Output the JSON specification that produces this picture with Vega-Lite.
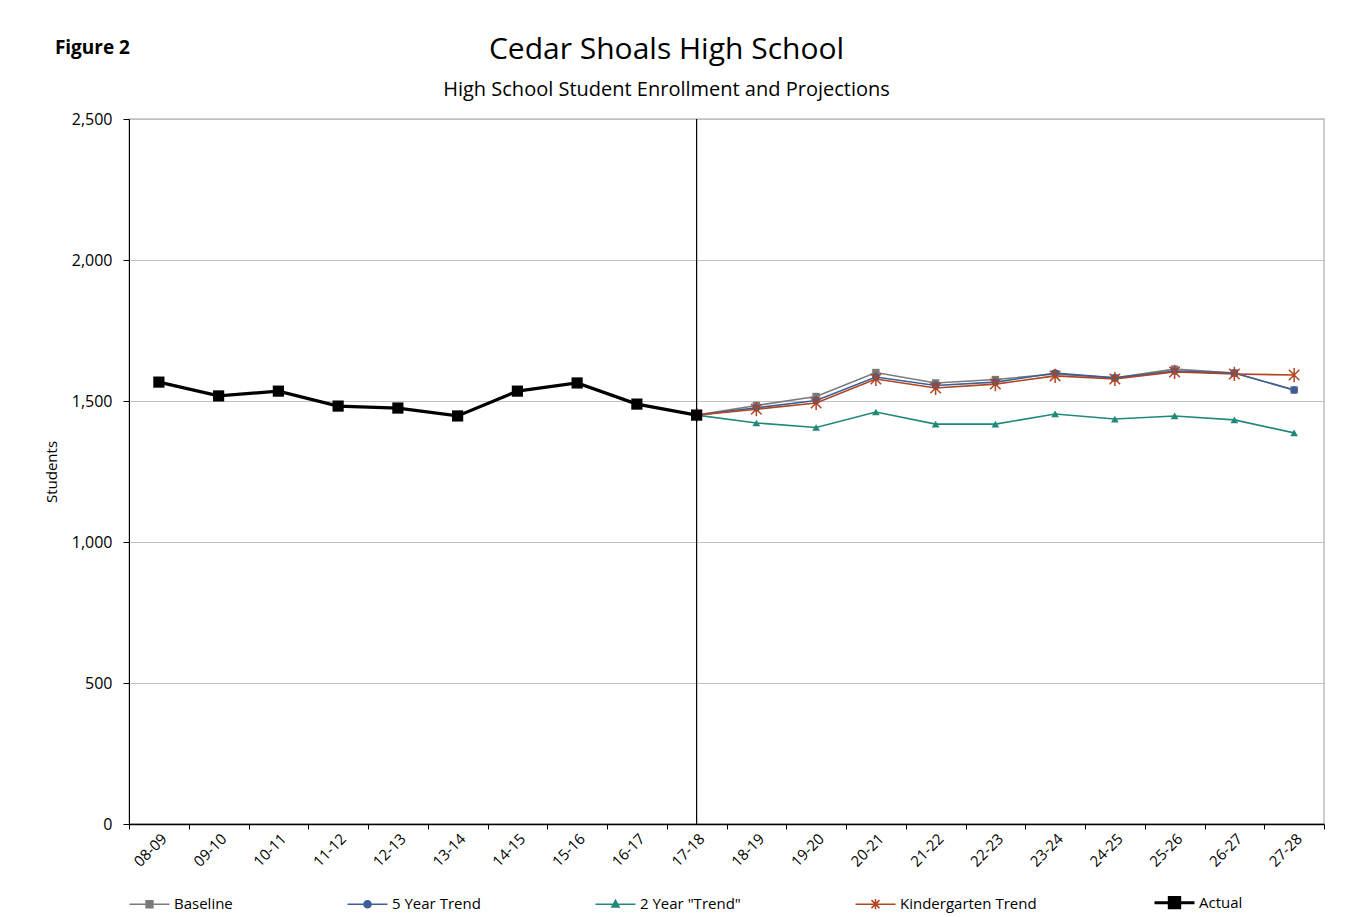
{
  "$schema": "https://vega.github.io/schema/vega-lite/v6.json",
  "autosize": {"type": "none"},
  "padding": {"left": 129, "top": 119, "right": 29, "bottom": 93},
  "width": 1195,
  "height": 705,
  "background": "white",
  "config": {
    "font": "Open Sans",
    "view": {"stroke": "#bfbfbf", "strokeWidth": 1.5}
  },
  "title": {
    "text": "Cedar Shoals High School",
    "subtitle": "High School Student Enrollment and Projections",
    "fontSize": 30,
    "fontWeight": "normal",
    "font": "Open Sans",
    "subtitleFont": "Open Sans",
    "subtitleFontSize": 20,
    "subtitlePadding": 15,
    "color": "black",
    "subtitleColor": "black",
    "anchor": "middle",
    "offset": -61,
    "dx": -60
  },
  "data": {
    "values": [
      {"year": "17-18", "series": "Baseline", "students": 1450},
      {"year": "18-19", "series": "Baseline", "students": 1484},
      {"year": "19-20", "series": "Baseline", "students": 1516},
      {"year": "20-21", "series": "Baseline", "students": 1601},
      {"year": "21-22", "series": "Baseline", "students": 1564},
      {"year": "22-23", "series": "Baseline", "students": 1576},
      {"year": "23-24", "series": "Baseline", "students": 1596},
      {"year": "24-25", "series": "Baseline", "students": 1582},
      {"year": "25-26", "series": "Baseline", "students": 1613},
      {"year": "26-27", "series": "Baseline", "students": 1599},
      {"year": "27-28", "series": "Baseline", "students": 1539},
      {"year": "17-18", "series": "5 Year Trend", "students": 1450},
      {"year": "18-19", "series": "5 Year Trend", "students": 1476},
      {"year": "19-20", "series": "5 Year Trend", "students": 1502},
      {"year": "20-21", "series": "5 Year Trend", "students": 1585},
      {"year": "21-22", "series": "5 Year Trend", "students": 1555},
      {"year": "22-23", "series": "5 Year Trend", "students": 1567},
      {"year": "23-24", "series": "5 Year Trend", "students": 1599},
      {"year": "24-25", "series": "5 Year Trend", "students": 1582},
      {"year": "25-26", "series": "5 Year Trend", "students": 1606},
      {"year": "26-27", "series": "5 Year Trend", "students": 1599},
      {"year": "27-28", "series": "5 Year Trend", "students": 1539},
      {"year": "17-18", "series": "2 Year \"Trend\"", "students": 1450},
      {"year": "18-19", "series": "2 Year \"Trend\"", "students": 1422},
      {"year": "19-20", "series": "2 Year \"Trend\"", "students": 1406},
      {"year": "20-21", "series": "2 Year \"Trend\"", "students": 1461},
      {"year": "21-22", "series": "2 Year \"Trend\"", "students": 1418},
      {"year": "22-23", "series": "2 Year \"Trend\"", "students": 1418},
      {"year": "23-24", "series": "2 Year \"Trend\"", "students": 1454},
      {"year": "24-25", "series": "2 Year \"Trend\"", "students": 1436},
      {"year": "25-26", "series": "2 Year \"Trend\"", "students": 1447},
      {"year": "26-27", "series": "2 Year \"Trend\"", "students": 1433},
      {"year": "27-28", "series": "2 Year \"Trend\"", "students": 1387},
      {"year": "17-18", "series": "Kindergarten Trend", "students": 1450},
      {"year": "18-19", "series": "Kindergarten Trend", "students": 1471},
      {"year": "19-20", "series": "Kindergarten Trend", "students": 1493},
      {"year": "20-21", "series": "Kindergarten Trend", "students": 1578},
      {"year": "21-22", "series": "Kindergarten Trend", "students": 1546},
      {"year": "22-23", "series": "Kindergarten Trend", "students": 1560},
      {"year": "23-24", "series": "Kindergarten Trend", "students": 1589},
      {"year": "24-25", "series": "Kindergarten Trend", "students": 1578},
      {"year": "25-26", "series": "Kindergarten Trend", "students": 1603},
      {"year": "26-27", "series": "Kindergarten Trend", "students": 1596},
      {"year": "27-28", "series": "Kindergarten Trend", "students": 1592},
      {"year": "08-09", "series": "Actual", "students": 1567},
      {"year": "09-10", "series": "Actual", "students": 1518},
      {"year": "10-11", "series": "Actual", "students": 1535},
      {"year": "11-12", "series": "Actual", "students": 1482},
      {"year": "12-13", "series": "Actual", "students": 1475},
      {"year": "13-14", "series": "Actual", "students": 1447},
      {"year": "14-15", "series": "Actual", "students": 1535},
      {"year": "15-16", "series": "Actual", "students": 1564},
      {"year": "16-17", "series": "Actual", "students": 1489},
      {"year": "17-18", "series": "Actual", "students": 1450}
    ]
  },
  "layer": [
    {
      "encoding": {
        "x": {
          "field": "year", "type": "ordinal",
          "scale": {"type": "band", "domain": ["08-09","09-10","10-11","11-12","12-13","13-14","14-15","15-16","16-17","17-18","18-19","19-20","20-21","21-22","22-23","23-24","24-25","25-26","26-27","27-28"], "paddingInner": 0, "paddingOuter": 0},
          "axis": {
            "title": null,
            "tickBand": "extent",
            "labelAngle": -45,
            "labelFontSize": 15,
            "labelColor": "black",
            "domainColor": "black",
            "domainWidth": 1.5,
            "tickColor": "black",
            "tickSize": 5,
            "labelPadding": 2,
            "grid": false
          }
        },
        "y": {
          "field": "students", "type": "quantitative",
          "scale": {"domain": [0, 2500], "nice": false},
          "axis": {
            "title": "Students",
            "titleFontSize": 15,
            "titleFontWeight": "normal",
            "titleColor": "black",
            "titlePadding": 12,
            "values": [0, 500, 1000, 1500, 2000, 2500],
            "format": ",.0f",
            "labelFontSize": 16,
            "labelColor": "black",
            "domainColor": "black",
            "tickColor": "black",
            "tickSize": 6,
            "labelPadding": 11,
            "gridColor": "#c0c0c0",
            "gridWidth": 1
          }
        },
        "color": {
          "field": "series", "type": "nominal",
          "scale": {
            "domain": ["Baseline", "5 Year Trend", "2 Year \"Trend\"", "Kindergarten Trend", "Actual"],
            "range": ["#7a7a7a", "#3c5f99", "#21897a", "#b2441f", "#000000"]
          },
          "legend": null
        }
      },
      "layer": [
        {
          "transform": [{"filter": "datum.series !== 'Actual'"}],
          "mark": {"type": "line", "strokeWidth": 1.6},
          "encoding": {
            "color": {
              "field": "series", "type": "nominal",
              "legend": {
                "title": null,
                "orient": "none",
                "direction": "horizontal",
                "legendX": 1,
                "legendY": 776,
                "symbolSize": 1600,
                "symbolType": "M-1,0H1",
                "labelFontSize": 15,
                "labelColor": "black",
                "labelOffset": 29,
                "columnPadding": 111,
                "values": ["Baseline", "5 Year Trend", "2 Year \"Trend\"", "Kindergarten Trend", "Actual"],
                "encode": {
                  "symbols": {
                    "update": {
                      "shape": {"signal": "['M-0.4,0H1.6M0.43,-0.17H0.77V0.17H0.43Z','M-0.4,0H1.6M0.78,0A0.18,0.18 0 1 1 0.42,0A0.18,0.18 0 1 1 0.78,0Z','M-0.4,0H1.6M0.6,-0.2L0.78,0.14L0.42,0.14Z','M-0.4,0H1.6M0.4,-0.2L0.8,0.2M0.4,0.2L0.8,-0.2M0.6,-0.26V0.26','M-0.4,0H1.6M0.34,-0.26H0.86V0.26H0.34Z'][datum.index]"},
                      "size": {"value": 1600},
                      "fill": {"scale": "color", "field": "value"},
                      "stroke": {"scale": "color", "field": "value"},
                      "strokeWidth": {"signal": "datum.index === 4 ? 3 : 1.5"},
                      "fillOpacity": {"value": 1},
                      "strokeOpacity": {"value": 1},
                      "opacity": {"value": 1}
                    }
                  }
                }
              }
            }
          }
        },
        {
          "transform": [{"filter": "datum.series === 'Baseline'"}],
          "mark": {"type": "point", "shape": "square", "filled": true, "opacity": 1, "size": 55, "color": "#6a6a6a"}
        },
        {
          "transform": [{"filter": "datum.series === '5 Year Trend'"}],
          "mark": {"type": "point", "shape": "circle", "filled": true, "opacity": 1, "size": 55}
        },
        {
          "transform": [{"filter": "datum.series === '2 Year \"Trend\"'"}],
          "mark": {"type": "point", "shape": "triangle-up", "filled": true, "opacity": 1, "size": 60}
        },
        {
          "transform": [{"filter": "datum.series === 'Kindergarten Trend'"}],
          "mark": {"type": "point", "shape": "M-1,-1L1,1M-1,1L1,-1M0,-1.35V1.35", "filled": false, "opacity": 1, "size": 110, "strokeWidth": 1.5}
        },
        {
          "transform": [{"filter": "datum.series === 'Actual'"}],
          "mark": {"type": "line", "strokeWidth": 3.2}
        },
        {
          "transform": [{"filter": "datum.series === 'Actual'"}],
          "mark": {"type": "point", "shape": "square", "filled": true, "opacity": 1, "size": 125}
        }
      ]
    },
    {
      "data": {"values": [{"divider": "projection start"}]},
      "mark": {"type": "rule", "color": "black", "strokeWidth": 1.2},
      "encoding": {
        "x": {"datum": "17-18"}
      }
    },
    {
      "data": {"values": [{"note": "Figure 2"}]},
      "mark": {"type": "text", "fontWeight": "bold", "fontSize": 19, "align": "left", "baseline": "middle", "dx": -104, "color": "black"},
      "encoding": {
        "x": {"datum": "08-09"},
        "y": {"datum": 2752},
        "text": {"field": "note"}
      }
    }
  ]
}
